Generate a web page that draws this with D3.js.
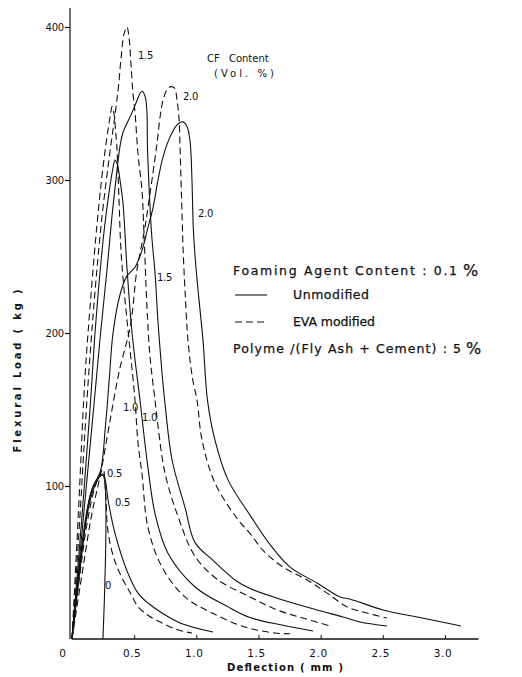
<!DOCTYPE html>
<html>
<head>
<meta charset="utf-8">
<script src="https://cdn.jsdelivr.net/npm/d3@7"></script>
<style>
  html, body { margin: 0; padding: 0; background: #fff; }
  svg { display: block; }
  text { font-family: "DejaVu Sans", "Liberation Sans", sans-serif; fill: #111; }
</style>
</head>
<body>
<svg id="chart" width="522" height="677"></svg>
<script>
// CF content levels (vol. %) and axis ticks
const cfLevels = ["0", "0.5", "1.0", "1.5", "2.0"];
const xTicks = [0, 0.5, 1.0, 1.5, 2.0, 2.5, 3.0];
const xTickLabels = ["0", "0.5", "1.0", "1.5", "2.0", "2.5", "3.0"];
const yTicks = [100, 200, 300, 400];
const yTickLabels = ["100", "200", "300", "400"];

// Load–deflection curves: [deflection (mm), flexural load (kg)]
const unmod0 = [[0,0],[0.06,48],[0.12,84],[0.17,100],[0.22,106],[0.249,107],[0.249,0]];

const unmod05 = [[0,0],[0.05,38],[0.1,70],[0.15,92],[0.2,103],[0.245,108],[0.265,105],
  [0.29,91],[0.346,69],[0.45,43],[0.531,30],[0.611,23.5],[0.724,17],[0.885,10],[1.134,4.6]];
const eva05 = [[0,0],[0.06,40],[0.12,75],[0.18,98],[0.225,108],[0.25,111],[0.27,96],
  [0.29,70],[0.34,52],[0.402,40],[0.47,30],[0.531,21],[0.62,15],[0.724,10.5],[0.85,6],[0.965,3.9]];

const unmod10 = [[0,0],[0.08,80],[0.15,156],[0.185,200],[0.22,235],[0.26,268],[0.3,293],
  [0.33,308],[0.346,313],[0.365,310],[0.386,300],[0.41,285],[0.442,243],[0.483,200],
  [0.547,156],[0.611,112],[0.668,82],[0.772,56],[0.99,34],[1.255,21],[1.432,14],[1.697,9],[1.939,5.2]];
const eva10 = [[0,0],[0.05,80],[0.1,165],[0.129,200],[0.2,270],[0.249,308],[0.29,333],
  [0.31,343],[0.322,348],[0.338,343],[0.35,333],[0.362,320],[0.378,287],[0.394,254],
  [0.426,222],[0.467,189],[0.507,156],[0.531,128],[0.563,108],[0.611,73],[0.724,47],
  [0.909,27.5],[1.126,17],[1.392,7.8],[1.633,3.9],[1.754,3.4]];

const unmod15 = [[0,0],[0.09,78],[0.18,156],[0.23,200],[0.28,240],[0.32,275],[0.36,305],
  [0.386,322],[0.41,331],[0.483,344],[0.523,352],[0.55,357],[0.565,358],[0.59,354],
  [0.603,344],[0.607,322],[0.62,295],[0.64,265],[0.668,239],[0.692,207],[0.724,174],
  [0.748,154],[0.805,117],[0.909,86],[0.99,63],[1.126,52],[1.311,38.6],[1.432,33],
  [1.697,25.5],[1.971,19],[2.18,14.4],[2.317,11.1],[2.534,8.5]];
const eva15 = [[0,0],[0.06,75],[0.12,156],[0.18,222],[0.24,275],[0.3,315],[0.35,345],
  [0.375,362],[0.395,380],[0.42,396],[0.442,400],[0.46,392],[0.475,375],
  [0.49,357],[0.507,344],[0.531,317],[0.563,293],[0.579,265],[0.603,217],[0.628,184],
  [0.668,156],[0.692,139],[0.748,108.5],[0.853,80],[0.99,54],[1.175,38.6],[1.432,27.5],
  [1.649,19],[1.858,13.7],[2.076,8.5]];

const unmod20 = [[0,0],[0.05,35],[0.1,70],[0.145,93],[0.19,103],[0.23,110],[0.27,140],
  [0.3,170],[0.33,200],[0.386,225],[0.44,237],[0.507,243],[0.563,254],[0.611,269],
  [0.652,282],[0.692,300],[0.732,315],[0.788,328],[0.845,336],[0.893,338],[0.925,335],
  [0.95,325],[0.965,300],[0.975,270],[0.99,250],[1.014,228],[1.054,195],[1.09,156],
  [1.15,130],[1.255,104],[1.44,80],[1.6,61],[1.754,47],[1.971,36.6],[2.156,27.5],
  [2.24,26],[2.502,19],[2.776,14.4],[3.13,8.5]];
const eva20 = [[0,0],[0.08,42],[0.16,82],[0.23,108],[0.3,140],[0.38,175],[0.47,205],
  [0.52,240],[0.547,252],[0.587,269],[0.611,282],[0.652,305],[0.684,324],[0.708,341],
  [0.732,352],[0.764,359],[0.796,361],[0.825,360],[0.845,352],[0.861,340],[0.869,322],
  [0.877,300],[0.885,278],[0.893,256],[0.909,228],[0.933,195],[0.97,170],[1.006,156],
  [1.046,130],[1.15,102],[1.335,78],[1.432,69],[1.537,58],[1.697,47],[1.891,38.6],
  [2.052,30],[2.212,21],[2.373,17],[2.534,13.7]];

const curves = [
  { cf: cfLevels[0], kind: "unmod", pts: unmod0 },
  { cf: cfLevels[1], kind: "unmod", pts: unmod05 },
  { cf: cfLevels[1], kind: "eva",   pts: eva05 },
  { cf: cfLevels[2], kind: "unmod", pts: unmod10 },
  { cf: cfLevels[2], kind: "eva",   pts: eva10 },
  { cf: cfLevels[3], kind: "unmod", pts: unmod15 },
  { cf: cfLevels[3], kind: "eva",   pts: eva15 },
  { cf: cfLevels[4], kind: "unmod", pts: unmod20 },
  { cf: cfLevels[4], kind: "eva",   pts: eva20 }
];

// CF-content tags written beside the curves, anchored in data space
const curveTags = [
  { text: cfLevels[3], at: [0.531, 379] },
  { text: cfLevels[4], at: [0.893, 352] },
  { text: cfLevels[4], at: [1.014, 276] },
  { text: cfLevels[3], at: [0.684, 234] },
  { text: cfLevels[2], at: [0.41, 149] },
  { text: cfLevels[2], at: [0.563, 142.5] },
  { text: cfLevels[1], at: [0.282, 106] },
  { text: cfLevels[1], at: [0.346, 87] },
  { text: cfLevels[0], at: [0.265, 32.7] }
];

const svg = d3.select("#chart");
svg.append("rect").attr("width", 522).attr("height", 677).attr("fill", "#fff");

const x = d3.scaleLinear().domain([0, 3.27]).range([72, 478.5]);
const y = d3.scaleLinear().domain([0, 412.4]).range([639, 8]);

const ink = "#111";

// x axis: ticks point up into the plot
const xAxis = d3.axisBottom(x).tickValues(xTicks).tickSize(-4).tickFormat(() => "");
const gx = svg.append("g").attr("transform", `translate(0,${y(0)})`).call(xAxis);
gx.select(".domain").attr("stroke", ink).attr("stroke-width", 1.3).attr("d", `M${x(0)},0H${x(3.27)}`);
gx.selectAll(".tick line").attr("stroke", ink).attr("stroke-width", 1);
gx.selectAll(".tick").filter(d => d === 0).remove();

svg.append("g").selectAll("text").data(xTicks).join("text")
  .attr("x", (d, i) => i === 0 ? x(d) - 9 : x(d) - 2)
  .attr("y", y(0) + 18)
  .attr("text-anchor", "middle")
  .attr("font-size", 10.5)
  .attr("letter-spacing", 0.6)
  .text((d, i) => xTickLabels[i]);

// y axis: ticks point outward to the left
const yAxis = d3.axisLeft(y).tickValues(yTicks).tickSize(5).tickFormat(() => "");
const gy = svg.append("g").attr("transform", `translate(${x(0) - 2},0)`).call(yAxis);
gy.select(".domain").attr("stroke", ink).attr("stroke-width", 1.2).attr("d", `M0,${y(0)}V${y(412.4)}`);
gy.selectAll(".tick line").attr("stroke", ink).attr("stroke-width", 1.2);

svg.append("g").selectAll("text").data(yTicks).join("text")
  .attr("x", x(0) - 8)
  .attr("y", d => y(d) + 4)
  .attr("text-anchor", "end")
  .attr("font-size", 10)
  .attr("letter-spacing", -0.2)
  .text((d, i) => yTickLabels[i]);

// axis titles
svg.append("text")
  .attr("transform", "translate(21,371) rotate(-90)")
  .attr("text-anchor", "middle")
  .attr("font-size", 10)
  .attr("font-weight", "bold")
  .attr("textLength", 163).attr("lengthAdjust", "spacing")
  .text("Flexural Load ( kg )");

svg.append("text")
  .attr("x", 227).attr("y", 671)
  .attr("font-size", 10)
  .attr("font-weight", "bold")
  .attr("textLength", 116).attr("lengthAdjust", "spacing")
  .text("Deflection ( mm )");

// curves
const line = d3.line()
  .x(d => x(d[0]))
  .y(d => y(d[1]))
  .curve(d3.curveCatmullRom.alpha(0.5));

svg.append("g").selectAll("path").data(curves).join("path")
  .attr("d", d => line(d.pts))
  .attr("fill", "none")
  .attr("stroke", ink)
  .attr("stroke-width", 1.1)
  .attr("stroke-linejoin", "round")
  .attr("stroke-dasharray", d => d.kind === "eva" ? "7,4" : null);

// CF tags on curves
svg.append("g").selectAll("text").data(curveTags).join("text")
  .attr("x", d => x(d.at[0]))
  .attr("y", d => y(d.at[1]))
  .attr("font-size", 10)
  .attr("letter-spacing", -0.3)
  .text(d => d.text);

// header for tags
svg.append("text").attr("x", 207).attr("y", 62).attr("font-size", 10)
  .attr("word-spacing", 6).text("CF Content");
svg.append("text").attr("x", 214).attr("y", 77).attr("font-size", 10)
  .attr("textLength", 60).attr("lengthAdjust", "spacing").text("(Vol. %)");

// legend block
const lg = svg.append("g").attr("stroke", ink).attr("stroke-width", 0.25);
lg.append("text").attr("x", 233).attr("y", 275).attr("font-size", 12.5)
  .attr("textLength", 224).attr("lengthAdjust", "spacing").text("Foaming Agent Content : 0.1");
lg.append("text").attr("x", 463).attr("y", 276).attr("font-size", 16).text("%");

lg.append("line").attr("x1", 235).attr("x2", 267).attr("y1", 295).attr("y2", 295)
  .attr("stroke-width", 1.1);
lg.append("text").attr("x", 293).attr("y", 299).attr("font-size", 12.5)
  .attr("textLength", 76).attr("lengthAdjust", "spacing").text("Unmodified");

lg.append("line").attr("x1", 235).attr("x2", 267).attr("y1", 322).attr("y2", 322)
  .attr("stroke-width", 1.1).attr("stroke-dasharray", "7,4");
lg.append("text").attr("x", 293).attr("y", 326).attr("font-size", 12.5)
  .attr("textLength", 82).attr("lengthAdjust", "spacing").text("EVA modified");

lg.append("text").attr("x", 233).attr("y", 353).attr("font-size", 12.5)
  .attr("textLength", 228).attr("lengthAdjust", "spacing").text("Polyme /(Fly Ash + Cement) : 5");
lg.append("text").attr("x", 466).attr("y", 354).attr("font-size", 16).text("%");
</script>
</body>
</html>
